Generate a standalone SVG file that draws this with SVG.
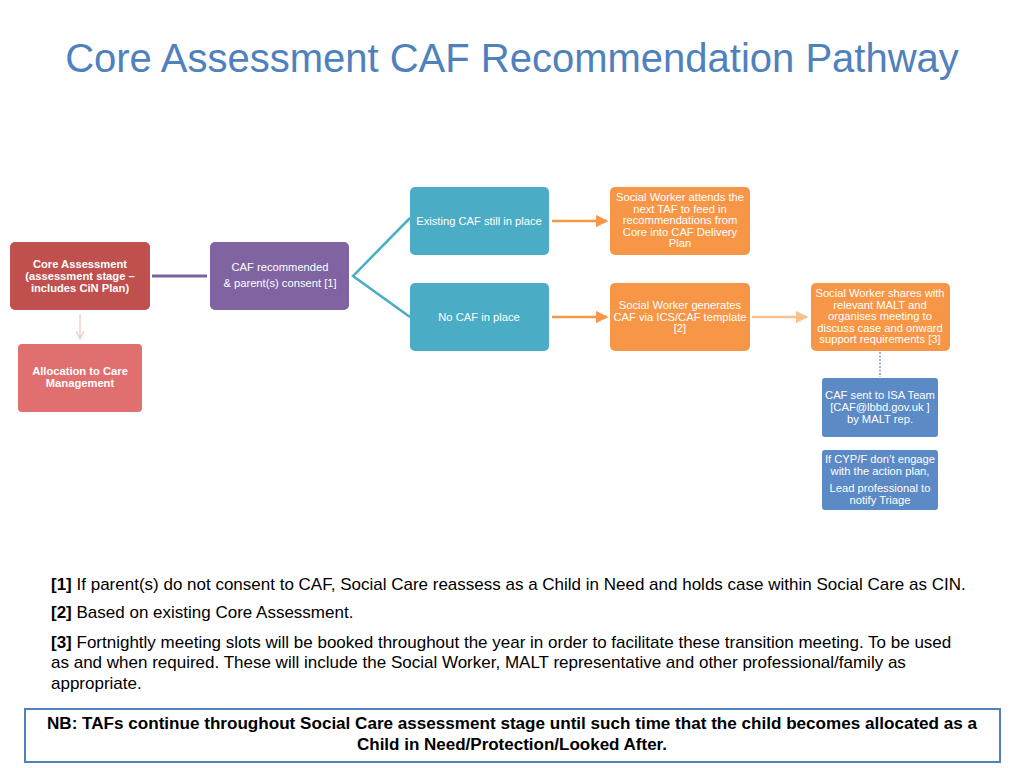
<svg xmlns="http://www.w3.org/2000/svg" width="1024" height="768" viewBox="0 0 1024 768">
<defs>
<style>
.t{font-family:"Liberation Sans",Arial,sans-serif;fill:#fff;font-size:11.2px;text-anchor:middle}
.b{font-weight:bold}
.fn{font-family:"Liberation Sans",Arial,sans-serif;font-size:17px;fill:#000}
</style>
<marker id="ao" viewBox="0 0 10 10" refX="9" refY="5" markerWidth="5" markerHeight="5" orient="auto"><path d="M0,0 L10,5 L0,10 z" fill="#f79646"/></marker>
<marker id="ap" viewBox="0 0 10 10" refX="9" refY="5" markerWidth="5" markerHeight="5" orient="auto"><path d="M0,0 L10,5 L0,10 z" fill="#fac090"/></marker>
<marker id="ar" viewBox="0 0 10 10" refX="9" refY="5" markerWidth="8" markerHeight="8" orient="auto"><path d="M1,1 L9,5 L1,9" fill="none" stroke="#f2c4c4" stroke-width="1.2"/></marker>
</defs>
<rect width="1024" height="768" fill="#fff"/>
<text x="512" y="72" font-family="Liberation Sans,Arial,sans-serif" font-size="40" fill="#4f81bd" text-anchor="middle">Core Assessment CAF Recommendation Pathway</text>

<g id="connectors">
<line x1="80" y1="314" x2="80" y2="339" stroke="#f2c4c4" stroke-width="1.2" marker-end="url(#ar)"/>
<line x1="152" y1="276" x2="207" y2="276" stroke="#7d60a0" stroke-width="3"/>
<polyline points="410,218 353,276 410,317" fill="none" stroke="#4bacc6" stroke-width="2.5"/>
<line x1="552" y1="221" x2="607" y2="221" stroke="#f79646" stroke-width="2.5" marker-end="url(#ao)"/>
<line x1="552" y1="317" x2="607" y2="317" stroke="#f79646" stroke-width="2.5" marker-end="url(#ao)"/>
<line x1="752" y1="317" x2="807" y2="317" stroke="#fac090" stroke-width="2.5" marker-end="url(#ap)"/>
<line x1="880" y1="352" x2="880" y2="377" stroke="#7f9bbf" stroke-width="1.5" stroke-dasharray="2,1.5"/>
</g>

<g id="core">
<rect x="10" y="242" width="140" height="68" rx="5" fill="#c0504d"/>
<text class="t b" x="80" y="268">Core Assessment</text>
<text class="t b" x="80" y="280">(assessment stage –</text>
<text class="t b" x="80" y="292">includes CiN Plan)</text>
</g>
<g id="allocation">
<rect x="18" y="344" width="124" height="68" rx="4" fill="#e0706f"/>
<text class="t b" x="80" y="375">Allocation to Care</text>
<text class="t b" x="80" y="387">Management</text>
</g>
<g id="caf">
<rect x="210" y="242" width="139" height="68" rx="5" fill="#8064a2"/>
<text class="t" x="280" y="271">CAF recommended</text>
<text class="t" x="280" y="287">&amp; parent(s) consent [1]</text>
</g>
<g id="existing">
<rect x="410" y="187" width="139" height="68" rx="5" fill="#4bacc6"/>
<text class="t" x="479" y="225">Existing CAF still in place</text>
</g>
<g id="nocaf">
<rect x="410" y="283" width="139" height="68" rx="5" fill="#4bacc6"/>
<text class="t" x="479" y="321">No CAF in place</text>
</g>
<g id="attends">
<rect x="610" y="187" width="140" height="68" rx="5" fill="#f79646"/>
<text class="t" x="680" y="201">Social Worker attends the</text>
<text class="t" x="680" y="212.5">next TAF to feed in</text>
<text class="t" x="680" y="224">recommendations from</text>
<text class="t" x="680" y="235.5">Core into CAF Delivery</text>
<text class="t" x="680" y="247">Plan</text>
</g>
<g id="generates">
<rect x="610" y="283" width="140" height="68" rx="5" fill="#f79646"/>
<text class="t" x="680" y="309">Social Worker generates</text>
<text class="t" x="680" y="320.5">CAF via ICS/CAF template</text>
<text class="t" x="680" y="332">[2]</text>
</g>
<g id="shares">
<rect x="811" y="283" width="139" height="68" rx="5" fill="#f79646"/>
<text class="t" x="880" y="297">Social Worker shares with</text>
<text class="t" x="880" y="308.5">relevant MALT and</text>
<text class="t" x="880" y="320">organises meeting to</text>
<text class="t" x="880" y="331.5">discuss case and onward</text>
<text class="t" x="880" y="343">support  requirements [3]</text>
</g>
<g id="isa">
<rect x="822" y="378" width="116" height="59" rx="3" fill="#5b8ac6"/>
<text class="t" x="880" y="399">CAF sent to ISA Team</text>
<text class="t" x="880" y="411">[CAF@lbbd.gov.uk ]</text>
<text class="t" x="880" y="423">by MALT rep.</text>
</g>
<g id="triage">
<rect x="822" y="450" width="116" height="60" rx="3" fill="#5b8ac6"/>
<text class="t" x="880" y="463">If CYP/F don’t engage</text>
<text class="t" x="880" y="475">with the action plan,</text>
<text class="t" x="880" y="492">Lead professional to</text>
<text class="t" x="880" y="504">notify Triage</text>
</g>

<g id="footnotes">
<text class="fn" x="51" y="590"><tspan font-weight="bold">[1]</tspan> If parent(s) do not consent to CAF, Social Care reassess as a Child in Need and holds case within Social Care as CIN.</text>
<text class="fn" x="51" y="618"><tspan font-weight="bold">[2]</tspan> Based on existing Core Assessment.</text>
<text class="fn" x="51" y="648"><tspan font-weight="bold">[3]</tspan> Fortnightly meeting slots will be booked throughout the year in order to facilitate these transition meeting. To be used</text>
<text class="fn" x="51" y="668">as and when required. These will include the Social Worker, MALT representative and other professional/family as</text>
<text class="fn" x="51" y="689">appropriate.</text>
</g>

<g id="nb">
<rect x="25" y="709" width="975" height="53" fill="#fff" stroke="#4f81bd" stroke-width="2"/>
<text x="512" y="729" font-family="Liberation Sans,Arial,sans-serif" font-size="16" font-weight="bold" text-anchor="middle" textLength="930" lengthAdjust="spacingAndGlyphs">NB: TAFs continue throughout Social Care assessment stage until such time that the child becomes allocated as a</text>
<text x="512" y="750" font-family="Liberation Sans,Arial,sans-serif" font-size="16" font-weight="bold" text-anchor="middle" textLength="310" lengthAdjust="spacingAndGlyphs">Child in Need/Protection/Looked After.</text>
</g>
</svg>
